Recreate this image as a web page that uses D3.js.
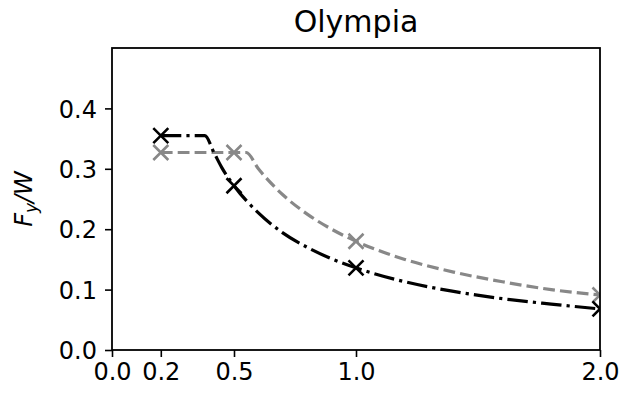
<!DOCTYPE html>
<html><head><meta charset="utf-8">
<script src="https://cdn.jsdelivr.net/npm/d3@7"></script>
<style>body{margin:0;background:#fff}text{font-family:"DejaVu Sans",sans-serif;fill:#000}</style>
</head><body><svg id="c" width="623" height="398"></svg>
<script>
// Data
const title = "Olympia";
const xTicks = [0.0, 0.2, 0.5, 1.0, 2.0];
const xTickLabels = ["0.0", "0.2", "0.5", "1.0", "2.0"];
const yTicks = [0.0, 0.1, 0.2, 0.3, 0.4];
const yTickLabels = ["0.0", "0.1", "0.2", "0.3", "0.4"];

// black dash-dot curve
const blackT = [0.2, 0.38, 0.42, 0.45, 0.5, 0.6, 0.7, 0.8, 0.9, 1.0, 1.2, 1.4, 1.6, 1.8, 2.0];
const blackY = [0.355, 0.355, 0.325, 0.302, 0.272, 0.227, 0.194, 0.170, 0.151, 0.136, 0.113, 0.097, 0.085, 0.076, 0.068];
// gray dashed curve
const grayT = [0.2, 0.55, 0.6, 0.7, 0.8, 0.9, 1.0, 1.2, 1.4, 1.6, 1.8, 2.0];
const grayY = [0.327, 0.327, 0.300, 0.257, 0.225, 0.200, 0.180, 0.150, 0.129, 0.113, 0.100, 0.091];
// marker points
const markerT = [0.2, 0.5, 1.0, 2.0];
const blackMarkY = [0.355, 0.272, 0.136, 0.068];
const grayMarkY = [0.327, 0.327, 0.180, 0.091];

const svg = d3.select("#c");
const L = 112, R = 600, T = 48, B = 350;
const x = d3.scaleLinear().domain([0, 2]).range([L, R]);
const y = d3.scaleLinear().domain([0, 0.5]).range([B, T]);

svg.append("rect").attr("width", 623).attr("height", 398).attr("fill", "#fff");
svg.append("defs").append("clipPath").attr("id", "clip")
  .append("rect").attr("x", L).attr("y", T).attr("width", R - L).attr("height", B - T);

const plot = svg.append("g").attr("clip-path", "url(#clip)");
const line = d3.line().x(d => x(d[0])).y(d => y(d[1])).curve(d3.curveMonotoneX);

const series = [
  {t: grayT, v: grayY, mt: markerT, mv: grayMarkY, color: "#888888", dash: "11.8,5.1"},
  {t: blackT, v: blackY, mt: markerT, mv: blackMarkY, color: "#000000", dash: "20.5,5.1,3.2,5.1"}
];
const lw = 3.2;
series.forEach(s => {
  const pts = s.t.map((t, i) => [t, s.v[i]]);
  plot.append("path").attr("d", line(pts)).attr("fill", "none")
    .attr("stroke", s.color).attr("stroke-width", lw).attr("stroke-dasharray", s.dash);
  const m = 7.5;
  s.mt.forEach((t, i) => {
    const cx = x(t), cy = y(s.mv[i]);
    plot.append("path")
      .attr("d", `M${cx - m},${cy - m}L${cx + m},${cy + m}M${cx - m},${cy + m}L${cx + m},${cy - m}`)
      .attr("stroke", s.color).attr("stroke-width", 2.6).attr("fill", "none");
  });
});

// axes
const xAxis = d3.axisBottom(x).tickValues(xTicks).tickFormat((d, i) => xTickLabels[i]).tickSize(7).tickPadding(6);
const yAxis = d3.axisLeft(y).tickValues(yTicks).tickFormat((d, i) => yTickLabels[i]).tickSize(7).tickPadding(8);
const gx = svg.append("g").attr("transform", `translate(0,${B})`).call(xAxis);
const gy = svg.append("g").attr("transform", `translate(${L},0)`).call(yAxis);
[gx, gy].forEach(g => {
  g.select(".domain").remove();
  g.selectAll(".tick line").attr("stroke", "#000").attr("stroke-width", 1.6);
  g.selectAll(".tick text").attr("font-size", 24).attr("font-family", "DejaVu Sans").attr("fill", "#000");
});
gy.selectAll(".tick text").attr("dy", "0.36em");
gx.selectAll(".tick text").attr("dy", "0.72em");

// frame
svg.append("rect").attr("x", L).attr("y", T).attr("width", R - L).attr("height", B - T)
  .attr("fill", "none").attr("stroke", "#000").attr("stroke-width", 1.8);

// title
svg.append("text").attr("x", (L + R) / 2).attr("y", 32).attr("text-anchor", "middle")
  .attr("font-size", 30).text(title);

// y label
const yl = svg.append("text").attr("transform", `translate(32,${(T + B) / 2}) rotate(-90)`)
  .attr("text-anchor", "middle").attr("font-size", 24).attr("font-style", "italic");
yl.append("tspan").text("F");
yl.append("tspan").attr("font-size", 17).attr("dy", 5).text("y");
yl.append("tspan").attr("dy", -5).text("/W");
</script></body></html>
